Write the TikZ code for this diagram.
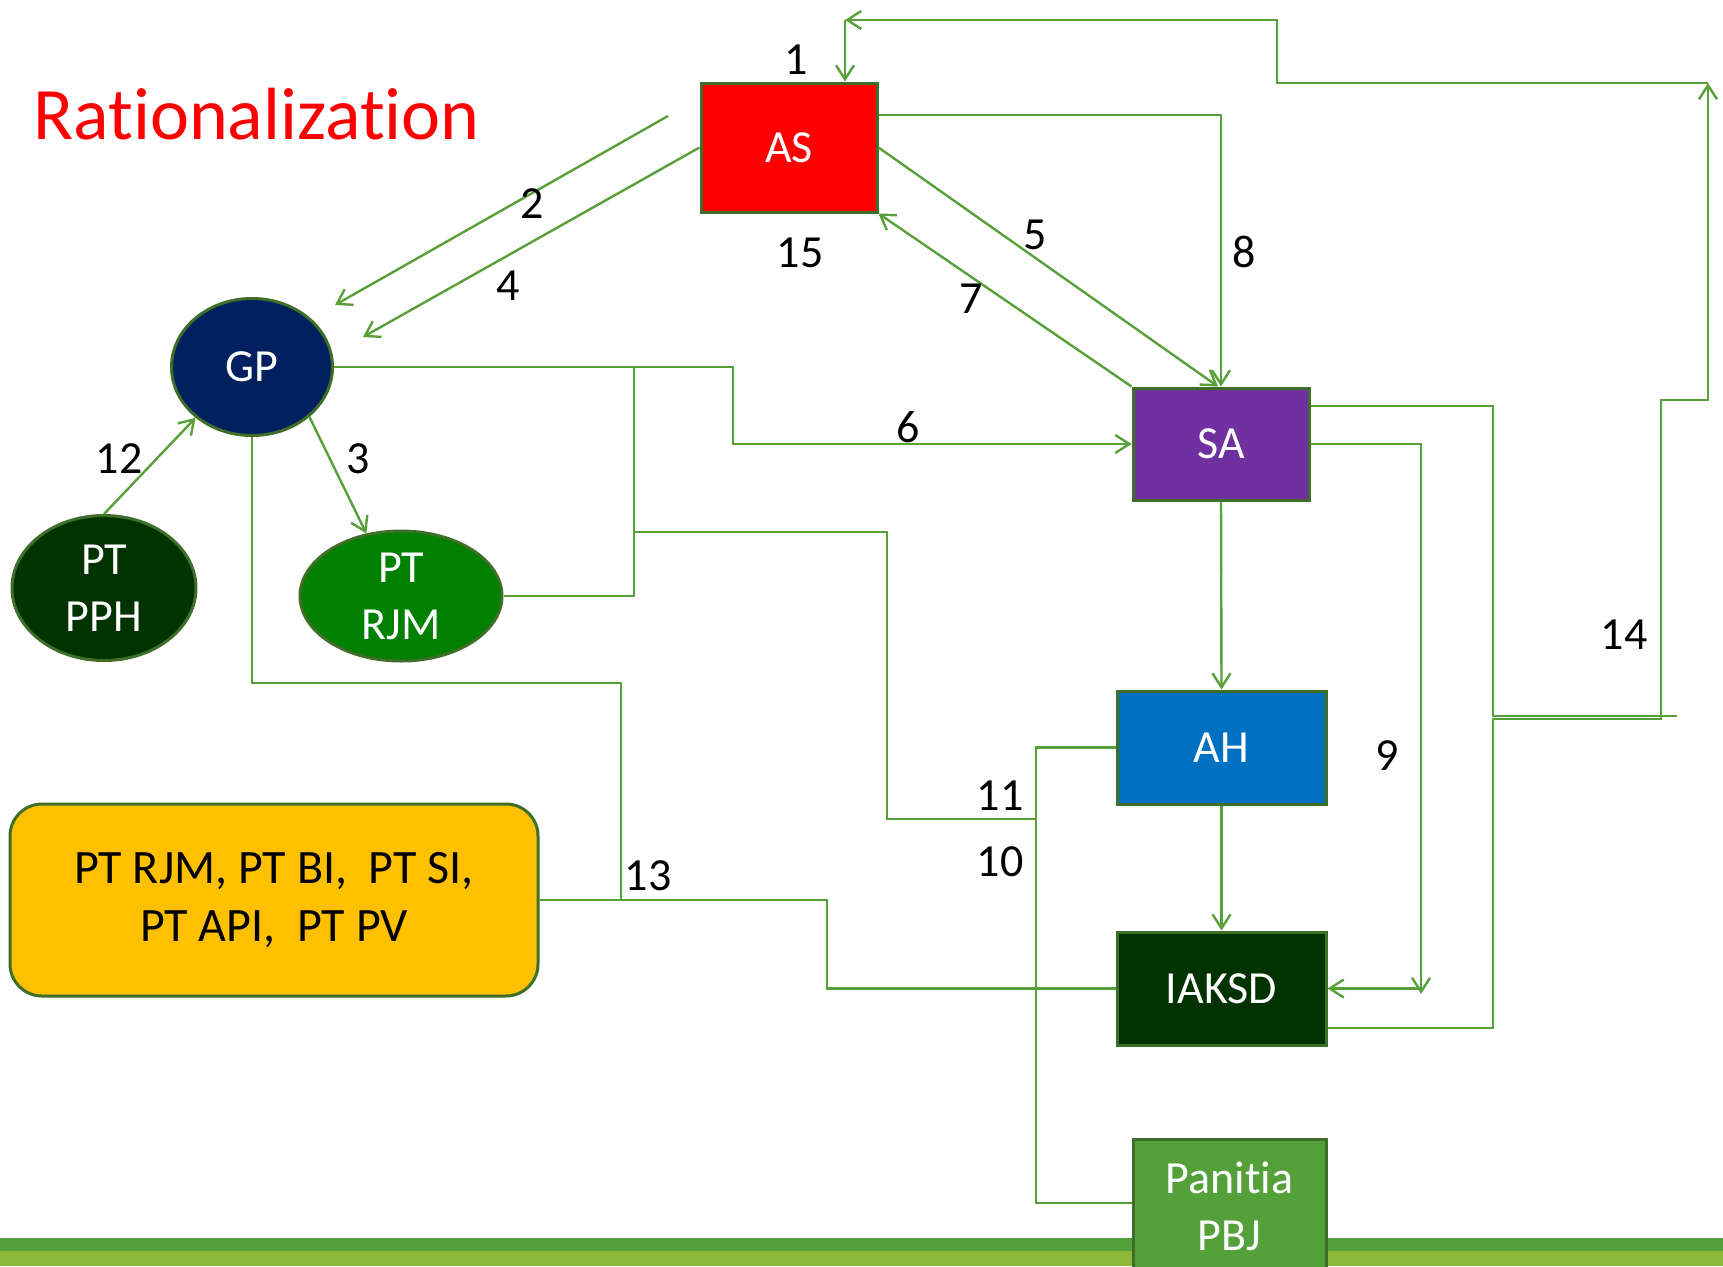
\documentclass[tikz,border=0pt]{standalone}
\usepackage{fontspec}
\setmainfont{Carlito}[Ligatures=NoCommon]
\usetikzlibrary{arrows.meta,calc,shapes.geometric}
\definecolor{ln}{RGB}{88,160,58}
\definecolor{bd}{RGB}{62,110,40}
\definecolor{asred}{RGB}{255,0,0}
\definecolor{gpblue}{RGB}{0,32,96}
\definecolor{dkgreen}{RGB}{0,51,0}
\definecolor{rjmgreen}{RGB}{0,128,0}
\definecolor{sapurple}{RGB}{112,48,160}
\definecolor{ahblue}{RGB}{0,112,192}
\definecolor{pbjgreen}{RGB}{84,160,58}
\definecolor{yel}{RGB}{255,192,0}
\definecolor{bandA}{RGB}{84,160,58}
\definecolor{bandB}{RGB}{140,185,58}
\tikzset{
 nd/.style={draw=bd, line width=1.5pt, text=white, inner sep=0pt, font=\fontsize{23}{28.5}\selectfont, align=center},
 boxnd/.style={nd, rectangle},
 ellnd/.style={nd, ellipse},
 conn/.style={draw=ln, line width=1.2pt},
 arr/.style={conn, -{Straight Barb[length=7pt,width=9pt,line width=1.2pt]}},
 lbl/.style={font=\fontsize{23}{28}\selectfont, inner sep=0pt},
}
\begin{document}
\begin{tikzpicture}[x=0.5pt,y=-0.5pt]
\useasboundingbox (0,0) rectangle (1723,1266);
\clip (0,0) rectangle (1723,1266);
\fill[white] (0,0) rectangle (1723,1266);
\fill[bandA] (0,1238) rectangle (1723,1251);
\fill[bandB] (0,1251) rectangle (1723,1266);

\node[anchor=base west, text=red, font=\fontsize{37}{40}\selectfont, inner sep=0pt] (title) at (33,139.5) {Rationalization};

\node[boxnd, fill=asred, minimum width=88pt, minimum height=64.5pt] (AS) at (789,147.5) {AS};
\node[ellnd, fill=gpblue, minimum width=80.5pt, minimum height=68.5pt] (GP) at (252,367) {GP};
\node[ellnd, fill=dkgreen, minimum width=92pt, minimum height=72.5pt] (PPH) at (104,588) {PT\\PPH};
\node[ellnd, fill=rjmgreen, minimum width=101pt, minimum height=65pt] (RJM) at (401,596) {PT\\RJM};
\node[boxnd, fill=sapurple, minimum width=88pt, minimum height=56pt] (SA) at (1221,444) {SA};
\node[boxnd, fill=ahblue, minimum width=104.5pt, minimum height=56.5pt] (AH) at (1221.5,747.5) {AH};
\node[boxnd, fill=dkgreen, minimum width=104.5pt, minimum height=56.5pt] (IAKSD) at (1221.5,988.5) {IAKSD};
\node[boxnd, fill=pbjgreen, minimum width=96.5pt, minimum height=67pt] (PBJ) at (1229.5,1206) {Panitia\\PBJ};
\node[boxnd, fill=yel, text=black, rounded corners=16pt, minimum width=264pt, minimum height=96pt, font=\fontsize{24}{29}\selectfont] (PTS) at (274,900) {PT RJM, PT BI,\ \ PT SI,\\PT API,\ \ PT PV};

% 14 and 1
\draw[conn] (SA.east |- 0,406) -- (1493,406) -- (1493,716) -- (1677,716);
\draw[arr] (IAKSD.east |- 0,1028) -- (1493,1028) -- (1493,719) -- (1661,719) -- (1661,400) -- (1708,400) -- (1708,83);
\coordinate (top) at (845,20);
\draw[arr] (1708,83) -- (1277,83) -- (1277,20) -- (top);
\draw[arr] (top) -- (AS.north -| top);
% 2
\coordinate (s2) at (668,116);
\coordinate (e2) at (335,305);
\draw[arr] (s2) -- (e2);
% 4
\coordinate (e4) at (363,337);
\draw[arr] (AS.west) -- (e4);
% 3
\draw[arr] (GP.-41) -- (RJM.119);
% 12
\draw[arr] (PPH.north) -- (GP.222);
% 5
\draw[arr] (AS.east) -- ($(SA.north)+(-3,0)$);
% 7
\draw[arr] (SA.north west) -- (AS.south east);
% 8
\draw[arr] (AS.east |- 0,115) -| (SA.north);
% 6
\draw[arr] (GP.east) -- (733,367) |- (SA.west);
% RJM / 11
\draw[conn] (RJM.east) -| (634,367);
\draw[conn] (634,532) -- (887,532) |- (1036,819);
% 10
\draw[conn] (AH.west) -| (1036,1203) -- (PBJ.west |- 0,1203);
% 13
\draw[conn] (GP.south) |- (621,683) -- (621,900);
\draw[conn] (PTS.east) -- (827,900) |- (IAKSD.west);
% SA - AH - IAKSD
\draw[arr] (SA.south) -- (AH.north);
\draw[arr] (AH.south) -- (IAKSD.north);
% 9
\draw[arr] (SA.east) -- (1421,444) -- (1421,994);
\draw[arr] (1421,988.5) -- (IAKSD.east);

% labels
\node[lbl] (l1) at (796,60) {1};
\node[lbl] (l2) at (532,204) {2};
\node[lbl] (l3) at (358,459) {3};
\node[lbl] (l4) at (508,286) {4};
\node[lbl] (l5) at (1035,235) {5};
\node[lbl] (l6) at (908,427) {6};
\node[lbl] (l7) at (971,299) {7};
\node[lbl] (l8) at (1244,252) {8};
\node[lbl] (l9) at (1387,756) {9};
\node[lbl] (l10) at (1000,862) {10};
\node[lbl] (l11) at (1000,796) {11};
\node[lbl] (l12) at (119,459) {12};
\node[lbl] (l13) at (648,876) {13};
\node[lbl] (l14) at (1624,635) {14};
\node[lbl] (l15) at (800,253) {15};
\end{tikzpicture}
\end{document}
